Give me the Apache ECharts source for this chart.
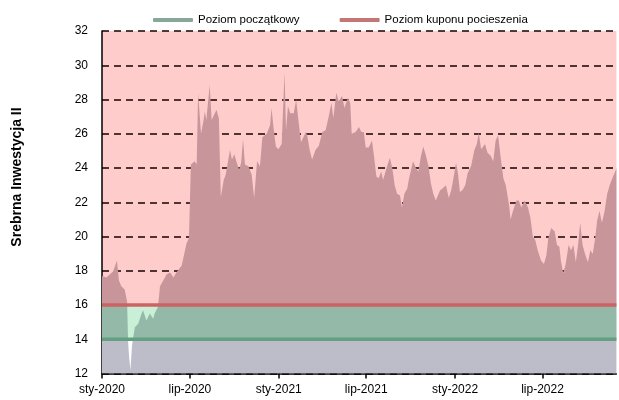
<!DOCTYPE html>
<html lang="pl">
  <head>
    <meta charset="UTF-8" />
    <title>Srebrna Inwestycja II</title>
    <script src="https://cdn.jsdelivr.net/npm/echarts@6/dist/echarts.min.js"></script>
    <style>
      html, body { margin: 0; padding: 0; background: #fff; }
      #main { width: 619px; height: 400px; }
    </style>
  </head>
  <body>
    <div id="main"></div>
    <script>
      // notowania srebra
      var dates = [
        "2020-01-01", "2020-01-10", "2020-01-24", "2020-02-01", "2020-02-05", "2020-02-10",
        "2020-02-17", "2020-02-22", "2020-02-24", "2020-02-26", "2020-02-29", "2020-03-03",
        "2020-03-05", "2020-03-09", "2020-03-16", "2020-03-23", "2020-03-26", "2020-04-02",
        "2020-04-09", "2020-04-16", "2020-04-19", "2020-04-26", "2020-04-30", "2020-05-07",
        "2020-05-14", "2020-05-21", "2020-05-28", "2020-06-03", "2020-06-14", "2020-06-24",
        "2020-06-29", "2020-07-03", "2020-07-11", "2020-07-15", "2020-07-18", "2020-07-22",
        "2020-07-24", "2020-07-28", "2020-08-01", "2020-08-04", "2020-08-11", "2020-08-15",
        "2020-08-18", "2020-08-25", "2020-08-30", "2020-09-01", "2020-09-03", "2020-09-09",
        "2020-09-13", "2020-09-22", "2020-09-26", "2020-10-01", "2020-10-06", "2020-10-11",
        "2020-10-15", "2020-10-19", "2020-10-23", "2020-10-30", "2020-11-06", "2020-11-11",
        "2020-11-17", "2020-11-23", "2020-11-28", "2020-12-07", "2020-12-14", "2020-12-17",
        "2020-12-21", "2020-12-26", "2020-12-31", "2021-01-07", "2021-01-11", "2021-01-13",
        "2021-01-16", "2021-01-20", "2021-01-25", "2021-02-01", "2021-02-06", "2021-02-11",
        "2021-02-16", "2021-02-21", "2021-02-26", "2021-03-01", "2021-03-06", "2021-03-11",
        "2021-03-18", "2021-03-25", "2021-04-01", "2021-04-08", "2021-04-15", "2021-04-20",
        "2021-04-24", "2021-04-30", "2021-05-05", "2021-05-12", "2021-05-17", "2021-05-24",
        "2021-05-29", "2021-06-01", "2021-06-09", "2021-06-16", "2021-06-21", "2021-06-26",
        "2021-06-30", "2021-07-06", "2021-07-13", "2021-07-18", "2021-07-22", "2021-07-27",
        "2021-08-01", "2021-08-05", "2021-08-12", "2021-08-19", "2021-08-24", "2021-08-29",
        "2021-09-03", "2021-09-09", "2021-09-13", "2021-09-18", "2021-09-24", "2021-09-27",
        "2021-10-01", "2021-10-06", "2021-10-12", "2021-10-17", "2021-10-22", "2021-10-27",
        "2021-11-01", "2021-11-07", "2021-11-12", "2021-11-17", "2021-11-22", "2021-11-26",
        "2021-12-01", "2021-12-06", "2021-12-13", "2021-12-19", "2021-12-24", "2021-12-28",
        "2022-01-03", "2022-01-07", "2022-01-11", "2022-01-16", "2022-01-22", "2022-01-27",
        "2022-02-03", "2022-02-06", "2022-02-10", "2022-02-15", "2022-02-19", "2022-02-24",
        "2022-02-28", "2022-03-04", "2022-03-09", "2022-03-16", "2022-03-21", "2022-03-26",
        "2022-03-31", "2022-04-06", "2022-04-11", "2022-04-16", "2022-04-23", "2022-04-26",
        "2022-05-01", "2022-05-08", "2022-05-13", "2022-05-18", "2022-05-25", "2022-06-01",
        "2022-06-06", "2022-06-11", "2022-06-16", "2022-06-21", "2022-06-28", "2022-07-04",
        "2022-07-09", "2022-07-13", "2022-07-19", "2022-07-26", "2022-07-31", "2022-08-05",
        "2022-08-08", "2022-08-13", "2022-08-18", "2022-08-24", "2022-08-29", "2022-09-03",
        "2022-09-08", "2022-09-13", "2022-09-17", "2022-09-22", "2022-09-27", "2022-10-03",
        "2022-10-08", "2022-10-13", "2022-10-18", "2022-10-22", "2022-10-27", "2022-11-01",
        "2022-11-06", "2022-11-12", "2022-11-17", "2022-11-24", "2022-11-28", "2022-12-01"
      ];
      var prices = [
        17.7, 17.6, 17.95, 18.6, 17.45, 17.1,
        16.9, 16.2, 13.9, 13.0, 12.2, 13.6,
        14.0, 14.7, 14.9, 15.5, 15.7, 15.1,
        15.5, 15.2, 15.5, 15.9, 17.1, 17.45,
        17.8, 17.9, 17.6, 17.9, 18.3, 19.6,
        19.9, 24.2, 24.4, 24.2, 28.4, 28.3,
        26.0, 26.6, 27.3, 26.8, 28.85, 26.8,
        26.9, 27.4, 26.9, 26.9, 22.3, 23.3,
        23.6, 25.05, 24.5, 24.8, 24.3, 23.9,
        24.3, 25.7, 24.2, 24.1, 23.6, 22.25,
        24.4, 24.1, 25.8, 26.0, 26.5, 27.5,
        26.4, 25.25, 25.1, 25.4, 25.3, 29.6,
        26.2, 27.6, 27.2, 27.2, 28.0, 26.7,
        25.5, 25.8, 26.1, 25.9, 25.05, 24.5,
        25.05, 25.3, 26.1, 26.2, 27.1, 27.8,
        26.9, 28.4, 27.9, 28.2, 27.5, 28.1,
        27.8, 26.0, 26.1, 26.4, 26.1, 26.1,
        25.2, 25.2, 25.6, 24.5, 23.5, 23.4,
        23.8, 23.3, 24.0, 24.6, 24.0, 23.0,
        22.5, 22.4, 21.7, 22.5, 22.8, 23.3,
        23.3, 24.4, 24.0, 23.8, 24.65, 25.25,
        24.8, 24.1, 23.1, 22.5, 22.1, 22.0,
        22.7, 22.8, 23.0, 22.25, 22.7, 23.3,
        24.3, 23.7, 22.6, 22.7, 23.0, 23.7,
        24.1, 24.2, 25.05, 25.4, 26.06, 25.1,
        25.1, 25.4, 24.9, 24.7, 24.4, 25.6,
        25.9, 24.5, 23.4, 23.0, 21.8, 21.0,
        21.5, 22.1, 22.1, 21.7, 22.1, 21.7,
        21.1, 20.0, 19.8, 19.2, 18.6, 18.4,
        18.9, 19.9, 20.5, 20.3, 19.5, 19.4,
        18.6, 17.85, 18.4, 19.5, 19.2, 19.5,
        18.5, 19.6, 20.8, 19.5, 19.0, 18.5,
        19.2, 19.0, 19.9, 20.9, 21.5, 20.8,
        21.4, 22.5, 23.0, 23.5, 23.75, 24.0
      ];

      // poziomy produktu
      var levelNames = ["Poziom początkowy", "Poziom kuponu pocieszenia"];
      var levelValues = [14, 16];
      var monthNames = ["sty", "lut", "mar", "kwi", "maj", "cze", "lip", "sie", "wrz", "paź", "lis", "gru"];
      var xMin = "2020-01-01";
      var xMax = "2022-12-01";
      var yMin = 12;
      var yMax = 32;

      var fontName = "Liberation Sans";
      var myChart = echarts.init(document.getElementById("main"));

      var priceData = dates.map(function (d, i) {
        return [d, prices[i]];
      });

      // kolory tla: 12-14 biale, 14-16 jasnozielone, powyzej 16 rozowe
      var bandColors = ["#ffffff", "#c9f0d6"];
      for (var k = 0; k < (yMax - yMin) / 2 - 2; k++) bandColors.push("#ffcccc");

      var option = {
        animation: false,
        textStyle: { fontFamily: fontName },
        grid: { left: 102, right: 2.6, top: 31, bottom: 26.5 },
        legend: {
          top: 9,
          left: 148,
          icon: "roundRect",
          itemWidth: 40,
          itemHeight: 4,
          itemGap: 40,
          textStyle: { fontSize: 11.5, color: "#000", fontFamily: fontName },
          data: [
            { name: levelNames[0], itemStyle: { color: "#86a896" } },
            { name: levelNames[1], itemStyle: { color: "#c47676" } }
          ]
        },
        graphic: [
          {
            type: "text",
            x: 17,
            y: 177,
            rotation: Math.PI / 2,
            style: {
              text: "Srebrna Inwestycja II",
              font: "bold 14px " + fontName,
              fill: "#000",
              align: "center",
              verticalAlign: "middle"
            }
          }
        ],
        xAxis: {
          type: "time",
          min: xMin,
          max: xMax,
          splitNumber: 5,
          axisLine: { lineStyle: { color: "#000", width: 1.5 } },
          axisTick: { show: true, length: 5, lineStyle: { color: "#000", width: 1.5 } },
          minorTick: { show: false },
          splitLine: { show: false },
          axisLabel: {
            color: "#000",
            fontSize: 12,
            margin: 10,
            formatter: function (value) {
              var d = new Date(value);
              return monthNames[d.getMonth()] + "-" + d.getFullYear();
            }
          }
        },
        yAxis: {
          type: "value",
          min: yMin,
          max: yMax,
          interval: 2,
          axisLine: { show: true, lineStyle: { color: "#000", width: 1.5 } },
          axisTick: { show: false },
          axisLabel: { color: "#000", fontSize: 12, margin: 14 },
          splitArea: { show: true, areaStyle: { color: bandColors } },
          splitLine: {
            show: true,
            lineStyle: { color: "#160000", width: 1.5, type: [7, 5] }
          }
        },
        series: [
          {
            name: "Srebro",
            type: "line",
            data: priceData,
            showSymbol: false,
            silent: true,
            z: 2,
            lineStyle: { width: 0 },
            areaStyle: { opacity: 1, origin: "start", color: "#c8959b" }
          },
          {
            name: levelNames[0],
            type: "line",
            data: [[xMin, levelValues[0]], [xMax, levelValues[0]]],
            showSymbol: false,
            silent: true,
            z: 3,
            color: "#62a080",
            lineStyle: { width: 3.5, color: "#62a080" }
          },
          {
            name: levelNames[1],
            type: "line",
            data: [[xMin, levelValues[1]], [xMax, levelValues[1]]],
            showSymbol: false,
            silent: true,
            z: 3,
            color: "#cc6262",
            lineStyle: { width: 3.5, color: "#cc6262" }
          }
        ]
      };
      myChart.setOption(option);

      // wypelnienie pod kursem zalezne od strefy (powyzej 16 / 14-16 / ponizej 14)
      var yTop = myChart.convertToPixel({ yAxisIndex: 0 }, yMax);
      var yBottom = myChart.convertToPixel({ yAxisIndex: 0 }, yMin);
      var o16 = (yMax - levelValues[1]) / (yMax - yMin);
      var o14 = (yMax - levelValues[0]) / (yMax - yMin);
      myChart.setOption({
        series: [
          {
            name: "Srebro",
            areaStyle: {
              color: new echarts.graphic.LinearGradient(0, yTop, 0, yBottom, [
                { offset: 0, color: "#c8959b" },
                { offset: o16, color: "#c8959b" },
                { offset: o16, color: "#95b9a9" },
                { offset: o14, color: "#95b9a9" },
                { offset: o14, color: "#bdbdc9" },
                { offset: 1, color: "#bdbdc9" }
              ], true)
            }
          }
        ]
      });
    </script>
  </body>
</html>
